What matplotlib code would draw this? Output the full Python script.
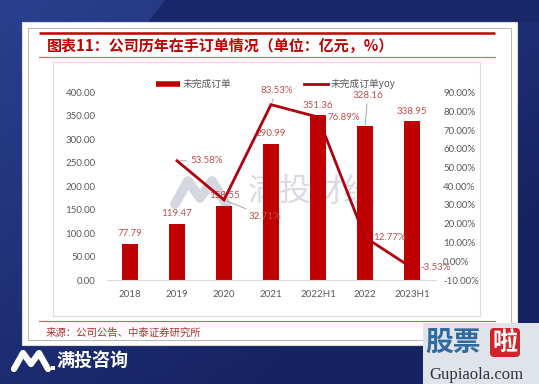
import matplotlib
matplotlib.use("Agg")
import matplotlib.pyplot as plt
import numpy as np
from matplotlib.patches import Rectangle, Polygon, FancyBboxPatch
from matplotlib.lines import Line2D

# ---------------- data ----------------
categories = ["2018", "2019", "2020", "2021", "2022H1", "2022", "2023H1"]
orders = [77.79, 119.47, 158.55, 290.99, 351.36, 328.16, 338.95]
yoy = [None, 53.58, 32.71, 83.53, 76.89, 12.77, -3.53]
left_ticks = [0, 50, 100, 150, 200, 250, 300, 350, 400]
right_ticks = [-10, 0, 10, 20, 30, 40, 50, 60, 70, 80, 90]
title = "图表11：公司历年在手订单情况（单位：亿元，%）"
source = "来源：公司公告、中泰证券研究所"
legend_labels = ["未完成订单", "未完成订单yoy"]

CJK = ["Noto Sans CJK SC", "DejaVu Sans"]
NUM = ["Lato", "DejaVu Sans"]
RED = "#C00000"
LBL = "#c0504d"
GREY = "#595959"

W, H = 539, 384
fig = plt.figure(figsize=(W / 100, H / 100), dpi=100)

# ---------------- background (pixel coordinates) ----------------
bg = fig.add_axes([0, 0, 1, 1], zorder=-10)
bg.set_xlim(0, W)
bg.set_ylim(H, 0)
bg.axis("off")
gx, gy = np.meshgrid(np.linspace(0, 1, 60), np.linspace(0, 1, 60))
g = np.clip(1 - (0.6 * gx + 0.7 * gy), 0, 1)
c1 = np.array([0x16, 0x23, 0x62]) / 255
c2 = np.array([0x2a, 0x40, 0x8e]) / 255
img = c1[None, None, :] * (1 - g[..., None]) + c2[None, None, :] * g[..., None]
bg.imshow(img, extent=[0, W, H, 0], aspect="auto", zorder=0)
bg.add_patch(Polygon([(165, 0), (W, 0), (W, 22), (148, 22)], closed=True,
                     facecolor="#19286a", edgecolor="none", zorder=1))

# card
bg.add_patch(Rectangle((22, 22), 495, 323, facecolor="white", edgecolor="#dcdcdc", lw=0.8, zorder=2))
bg.add_patch(Rectangle((28, 28), 483, 312, facecolor="white", edgecolor="#b8b8b8", lw=0.7, zorder=2))
bg.plot([39, 495], [33, 33], color=RED, lw=1.8, zorder=3, solid_capstyle="butt")
bg.plot([39, 495], [57, 57], color="#c87070", lw=0.9, zorder=3)
bg.plot([39, 495], [321, 321], color="#c86060", lw=0.8, zorder=3)
# inner chart panel
bg.add_patch(Rectangle((53, 62), 427, 254, facecolor="white", edgecolor="#dadada", lw=0.8, zorder=3))

bg.text(47, 46, title, fontsize=10.8, fontweight="bold", color=RED, family=CJK,
        ha="left", va="center", zorder=4)
bg.text(46, 333, source, fontsize=7.5, color="#b03030", family=CJK,
        ha="left", va="center", zorder=4)

# watermark
bg.plot([175, 188, 200, 212, 226], [204, 181, 198, 181, 204], color="#d4d7df", lw=7,
        solid_joinstyle="round", solid_capstyle="round", zorder=4)
bg.text(312, 192, "满投财经", fontsize=23, color="#d8dbe3", family=CJK,
        ha="center", va="center", zorder=4)

# bottom-left logo
bg.plot([14, 23, 31, 39, 48], [369, 353, 364, 353, 369], color="white", lw=4.5,
        solid_joinstyle="round", solid_capstyle="round", zorder=4)
bg.add_patch(Rectangle((51, 366), 3.5, 3.5, facecolor="white", edgecolor="none", zorder=4))
bg.text(57, 360, "满投咨询", fontsize=13, fontweight="bold", color="white", family=CJK,
        ha="left", va="center", zorder=4)

# bottom-right watermark
bg.add_patch(Rectangle((423, 323), 116, 61, facecolor="#dfe3ea", edgecolor="none", zorder=4))
bg.text(425, 343, "股票", fontsize=20, fontweight="bold", color="#2f6aa0", family=CJK,
        ha="left", va="center", zorder=5)
bg.add_patch(FancyBboxPatch((490, 328), 30, 29, boxstyle="round,pad=0,rounding_size=4",
                            facecolor="#d2232a", edgecolor="none", zorder=5))
bg.text(505, 343, "啦", fontsize=18, fontweight="bold", color="white", family=CJK,
        ha="center", va="center", zorder=6)
bg.text(476, 375, "Gupiaola.com", fontsize=12, color="#333333", family="Liberation Serif",
        ha="center", va="center", zorder=5)

# ---------------- chart ----------------
ax = fig.add_axes([106.5 / W, 1 - 280 / H, 329 / W, 187.5 / H], zorder=1)
ax.patch.set_alpha(0)
x = np.arange(len(categories))
bars = ax.bar(x, orders, width=0.32, color=RED, zorder=2)
ax.set_xlim(-0.5, len(categories) - 0.5)
ax.set_ylim(0, 400)
ax.set_yticks(left_ticks)
ax.set_yticklabels([f"{v:.2f}" for v in left_ticks], family=NUM, fontsize=7, color=GREY)
ax.set_xticks(x)
ax.set_xticklabels(categories, family=NUM, fontsize=7, color=GREY)
ax.tick_params(axis="y", length=0, pad=8)
ax.tick_params(axis="x", length=0, pad=7)
for s in ["top", "left", "right"]:
    ax.spines[s].set_visible(False)
ax.spines["bottom"].set_color("#d9d9d9")

ax2 = ax.twinx()
ax2.set_ylim(-10, 90)
ax2.set_yticks(right_ticks)
ax2.set_yticklabels([f"{v:.2f}%" for v in right_ticks], family=NUM, fontsize=7, color=GREY)
ax2.tick_params(axis="y", length=0, pad=5.5)
for s in ax2.spines.values():
    s.set_visible(False)
lx = [i for i, v in enumerate(yoy) if v is not None]
ly = [v for v in yoy if v is not None]
ax2.plot(lx, ly, color="#b00010", lw=2, zorder=3, solid_joinstyle="miter")

# bar labels
bar_offsets = {5: (2, 19)}
for i, v in enumerate(orders):
    dx, dy = bar_offsets.get(i, (0, 4))
    if i in bar_offsets:
        ax.annotate(f"{v:.2f}", xy=(i, v), xytext=(dx, dy), textcoords="offset points",
                    ha="center", va="bottom", fontsize=7, color=LBL, family=NUM,
                    arrowprops=dict(arrowstyle="-", color="#a6a6a6", lw=0.7, shrinkA=1, shrinkB=1),
                    zorder=5)
    else:
        ax.annotate(f"{v:.2f}", xy=(i, v), xytext=(dx, dy), textcoords="offset points",
                    ha="center", va="bottom", fontsize=7, color=LBL, family=NUM, zorder=5)

# line labels (offset in points, ha, leader)
line_lbl = {1: (9.5, 0, "left", True), 2: (18, -12, "left", True), 3: (4, 10.5, "center", True),
            4: (6.5, 0, "left", False), 5: (5.8, 0, "left", False), 6: (5.8, 0, "left", False)}
for i, v in enumerate(yoy):
    if v is None:
        continue
    dx, dy, ha, lead = line_lbl[i]
    kw = {}
    if lead:
        kw["arrowprops"] = dict(arrowstyle="-", color="#a6a6a6", lw=0.7, shrinkA=1, shrinkB=2)
    ax2.annotate(f"{v:.2f}%", xy=(i, v), xytext=(dx, dy), textcoords="offset points",
                 ha=ha, va="center", fontsize=7, color=LBL, family=NUM, zorder=6, **kw)

# legend
handles = [Line2D([], [], color=RED, lw=4, solid_capstyle="butt"),
           Line2D([], [], color="#b00010", lw=2)]
leg = fig.legend(handles, legend_labels, loc="center", bbox_to_anchor=(276 / W, 1 - 84 / H),
                 ncol=2, frameon=False, handlelength=2.4, handletextpad=0.3,
                 columnspacing=7.5, prop={"family": CJK, "size": 7})
for t in leg.get_texts():
    t.set_color(GREY)

fig.savefig("out.png", dpi=100)
